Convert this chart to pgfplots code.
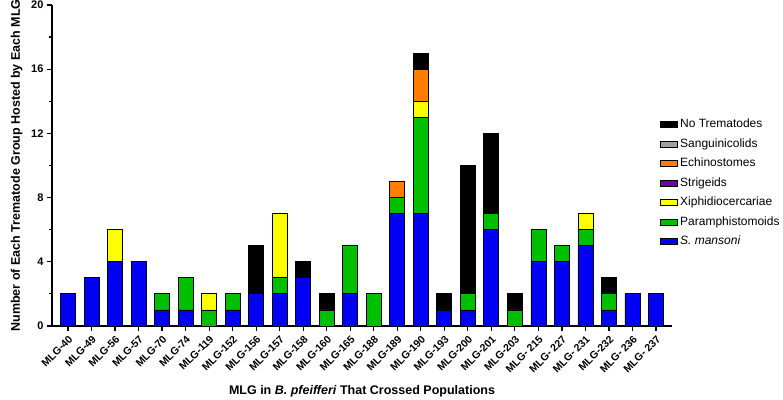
\documentclass[border=0pt]{standalone}
\usepackage{fontspec}
\setmainfont{Liberation Sans}
\usepackage{pgfplots}
\pgfplotsset{compat=1.18}
\definecolor{smblue}{RGB}{0,0,245}
\definecolor{pgreen}{RGB}{0,190,0}
\definecolor{xyellow}{RGB}{255,255,0}
\definecolor{strpurple}{RGB}{110,0,150}
\definecolor{echorange}{RGB}{255,125,0}
\definecolor{sangray}{RGB}{160,160,160}
\begin{document}
\begin{tikzpicture}
\begin{axis}[
  name=ax,
  scale only axis,
  width=620pt, height=321pt,
  ybar stacked,
  bar width=15pt,
  xmin=-0.68, xmax=25.68,
  ymin=0, ymax=20,
  axis lines*=left,
  axis line style={line width=1.3pt},
  tick align=outside,
  major tick length=5pt,
  minor tick length=3pt,
  every tick/.style={black, line width=1.2pt},
  ytick={0,4,8,12,16,20},
  minor ytick={2,6,10,14,18},
  xtick={0,...,25},
  xticklabels={MLG-40,MLG-49,MLG-56,MLG-57,MLG-70,MLG-74,MLG-119,MLG-152,MLG-156,MLG-157,MLG-158,MLG-160,MLG-165,MLG-188,MLG-189,MLG-190,MLG-193,MLG-200,MLG-201,MLG-203,MLG- 215,MLG- 227,MLG- 231,MLG-232,MLG- 236,MLG- 237},
  x tick label style={rotate=45, anchor=north east, font=\bfseries\fontsize{10.5}{11}\selectfont, inner sep=2.5pt},
  y tick label style={font=\bfseries\fontsize{11}{12}\selectfont},
  /pgf/number format/assume math mode=true,
  ylabel={\textbf{Number of Each Trematode Group Hosted by Each MLG}},
  ylabel style={font=\fontsize{12.5}{13}\selectfont, yshift=2pt},
  xlabel={\textbf{MLG in \textit{B. pfeifferi} That Crossed Populations}},
  xlabel style={font=\fontsize{12.5}{13}\selectfont, yshift=-5pt},
  every axis plot/.append style={draw=black, line width=0.8pt},
  reverse legend,
  legend image code/.code={\draw[#1, draw=black, line width=0.7pt] (-4pt,-3pt) rectangle (13pt,3pt);},
  legend style={at={(rel axis cs:0.973,0.657)}, xshift=2pt, anchor=north west, draw=none, fill=none,
    font=\fontsize{12}{14}\selectfont, row sep=5.3pt, cells={anchor=west}},
]
\addplot[fill=smblue] coordinates {(0,2)(1,3)(2,4)(3,4)(4,1)(5,1)(6,0)(7,1)(8,2)(9,2)(10,3)(11,0)(12,2)(13,0)(14,7)(15,7)(16,1)(17,1)(18,6)(19,0)(20,4)(21,4)(22,5)(23,1)(24,2)(25,2)};
\addplot[fill=pgreen] coordinates {(0,0)(1,0)(2,0)(3,0)(4,1)(5,2)(6,1)(7,1)(8,0)(9,1)(10,0)(11,1)(12,3)(13,2)(14,1)(15,6)(16,0)(17,1)(18,1)(19,1)(20,2)(21,1)(22,1)(23,1)(24,0)(25,0)};
\addplot[fill=xyellow] coordinates {(0,0)(1,0)(2,2)(3,0)(4,0)(5,0)(6,1)(7,0)(8,0)(9,4)(10,0)(11,0)(12,0)(13,0)(14,0)(15,1)(16,0)(17,0)(18,0)(19,0)(20,0)(21,0)(22,1)(23,0)(24,0)(25,0)};
\addlegendimage{fill=strpurple}
\addplot[fill=echorange] coordinates {(0,0)(1,0)(2,0)(3,0)(4,0)(5,0)(6,0)(7,0)(8,0)(9,0)(10,0)(11,0)(12,0)(13,0)(14,1)(15,2)(16,0)(17,0)(18,0)(19,0)(20,0)(21,0)(22,0)(23,0)(24,0)(25,0)};
\addlegendimage{fill=sangray}
\addplot[fill=black] coordinates {(0,0)(1,0)(2,0)(3,0)(4,0)(5,0)(6,0)(7,0)(8,3)(9,0)(10,1)(11,1)(12,0)(13,0)(14,0)(15,1)(16,1)(17,8)(18,5)(19,1)(20,0)(21,0)(22,0)(23,1)(24,0)(25,0)};
\legend{\textit{S. mansoni},Paramphistomoids,Xiphidiocercariae,Strigeids,Echinostomes,Sanguinicolids,No Trematodes}
\end{axis}
\pgfresetboundingbox
\path[use as bounding box] ([xshift=-52pt,yshift=-74pt]ax.south west) rectangle ([xshift=111pt,yshift=5pt]ax.north east);
\end{tikzpicture}
\end{document}
